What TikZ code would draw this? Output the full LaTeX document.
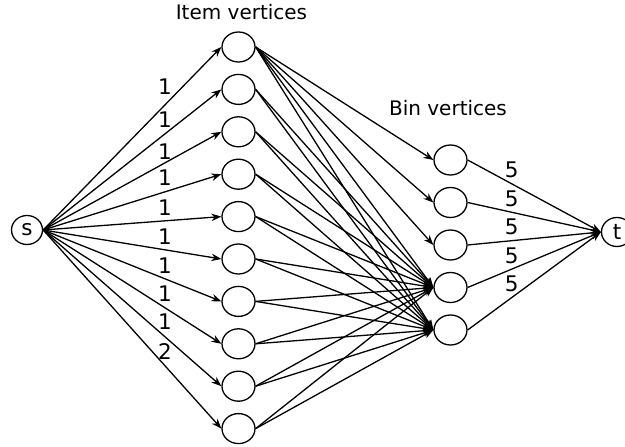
\documentclass[tikz,border=0pt]{standalone}
\usepackage{fontspec}
\setmainfont{DejaVu Sans}
\usetikzlibrary{arrows.meta}
\usetikzlibrary{shapes.geometric}
\tikzset{
  vertex/.style={draw, ellipse, line width=1.3pt, minimum width=33pt, minimum height=30pt, inner sep=0pt},
  term/.style={vertex, minimum width=31pt, minimum height=29pt, font=\fontsize{21.5}{24}\selectfont},
  flow/.style={line width=1.3pt, -{Stealth[length=10pt,width=7.5pt]}},
  capnum/.style={inner sep=0pt, font=\fontsize{21.5}{24}\selectfont}
}

\begin{document}
\begin{tikzpicture}[x=1pt,y=1pt,every node/.style={font=\fontsize{20}{24}\selectfont}]
      \useasboundingbox (0,0) rectangle (625,447);
      \node (itemtitle) at (241.5,435) {Item vertices};
      \node (bintitle) at (448,339) {Bin vertices};
      \node[term] (s) at (27,217) {s};
      \node[term] (t) at (617,215) {t};
      \foreach \i in {1,...,10} {
        \node[vertex] (i\i) at (238.5,{400-42.4*(\i-1)}) {};
      }
      \foreach \j in {1,...,5} {
        \node[vertex] (b\j) at (450.5,{287-42.5*(\j-1)}) {};
      }
      % s to the items, weights at x=165
      \foreach \i/\w/\ly in {1/1/360,2/1/327,3/1/295,4/1/269,5/1/239,6/1/210,7/1/181,8/1/153,9/1/125,10/2/95} {
        \draw[flow] (s.east) -- (i\i.west);
        \node[capnum] (w\i) at (165,\ly) {\w};
      }
      \foreach \j in {1,2,3} {
        \draw[flow] (i1.east) -- (b\j.west);
      }
      \foreach \i in {1,...,10} {
        \draw[flow] (i\i.east) -- (b4.west);
        \draw[flow] (i\i.east) -- (b5.west);
      }
      \foreach \j in {1,...,5} {
        \draw[flow] (b\j.east) -- node[capnum, above=5pt, pos=0.33] {5} (t.west);
      }
  \end{tikzpicture}
\end{document}
